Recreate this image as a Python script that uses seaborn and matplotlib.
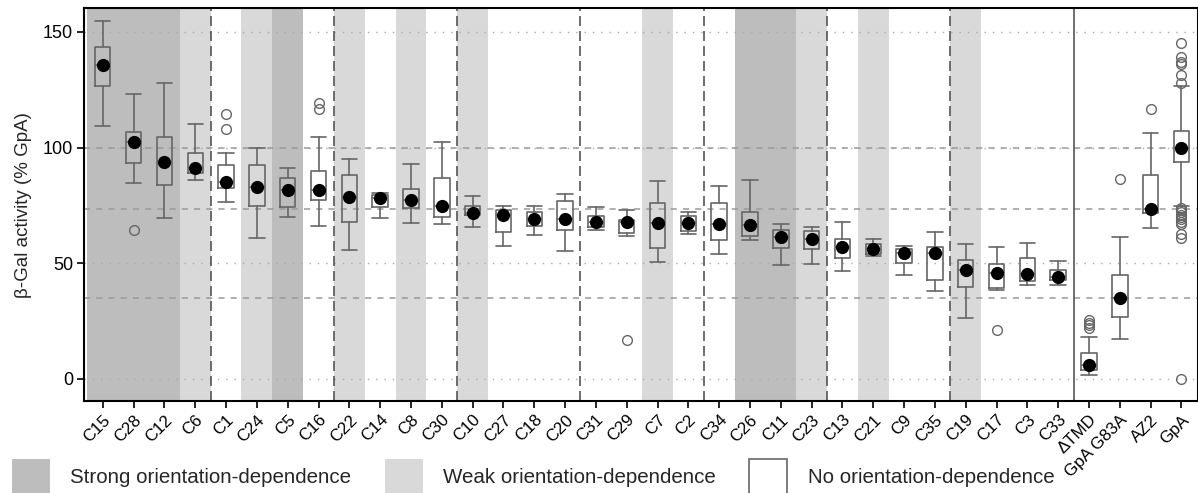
import matplotlib
matplotlib.use("Agg")
import numpy as np
import pandas as pd
import seaborn as sns
import matplotlib.pyplot as plt
from matplotlib.patches import Patch

# Constructs, ordered by median activity, followed by the controls
constructs = ["C15", "C28", "C12", "C6", "C1", "C24", "C5", "C16", "C22", "C14",
              "C8", "C30", "C10", "C27", "C18", "C20", "C31", "C29", "C7", "C2",
              "C34", "C26", "C11", "C23", "C13", "C21", "C9", "C35", "C19", "C17",
              "C3", "C33", "ΔTMD", "GpA G83A", "AZ2", "GpA"]

# Orientation-dependence class of each construct
orientation = ["strong", "strong", "strong", "weak", "none", "weak", "strong", "none",
               "weak", "none", "weak", "none", "weak", "none", "none", "none",
               "none", "none", "weak", "none", "none", "strong", "strong", "weak",
               "none", "weak", "none", "none", "weak", "none", "none", "none",
               "none", "none", "none", "none"]

# Box-plot statistics (% GpA)
whisker_low = [109.2, 84.5, 69.5, 85.8, 76.3, 60.7, 69.8, 66.1, 55.8, 69.5,
               67.5, 66.8, 65.6, 57.3, 62.3, 55.2, 64.2, 61.6, 50.5, 62.8,
               53.8, 59.9, 49.4, 49.8, 46.8, 52.9, 44.8, 38.1, 26.1, 38.6,
               40.4, 40.7, 1.7, 17.3, 65.4, 74.6]
q1 = [126.5, 93.2, 83.7, 88.9, 82.3, 74.9, 74.2, 77.5, 68.0, 74.3,
      74.0, 69.8, 70.7, 63.5, 66.2, 64.2, 65.6, 63.2, 56.5, 63.9,
      60.0, 61.7, 56.7, 56.3, 52.4, 54.1, 50.0, 42.9, 39.7, 39.2,
      42.4, 42.9, 3.9, 26.7, 71.9, 93.9]
median = [135.6, 102.4, 93.9, 91.0, 85.1, 82.9, 81.6, 81.6, 78.4, 78.2,
          77.1, 74.6, 71.9, 70.8, 69.3, 69.1, 67.7, 67.7, 67.4, 67.4,
          66.8, 66.4, 61.3, 60.4, 56.8, 56.3, 54.5, 54.5, 47.2, 45.6,
          45.3, 43.9, 5.9, 34.9, 73.4, 100.0]
q3 = [143.4, 106.8, 104.5, 97.7, 92.6, 92.6, 86.7, 89.9, 88.0, 79.4,
      82.1, 87.0, 74.7, 72.9, 72.3, 76.9, 70.3, 68.7, 75.9, 70.3,
      75.9, 72.1, 64.5, 63.9, 60.6, 58.3, 56.3, 57.0, 51.3, 49.8,
      52.4, 47.2, 11.0, 44.8, 88.0, 107.1]
whisker_high = [154.8, 123.2, 128.1, 110.2, 97.7, 99.8, 91.2, 104.6, 94.9, 80.3,
                92.8, 102.3, 78.9, 74.7, 74.7, 79.9, 74.2, 73.2, 85.7, 72.1,
                83.2, 86.0, 66.8, 65.5, 67.8, 60.3, 57.4, 63.5, 58.4, 57.0,
                58.7, 51.1, 18.0, 61.2, 106.1, 126.8]
outliers = {
    "C28": [64.5],
    "C1": [108.2, 114.3],
    "C16": [116.6, 119.2],
    "C29": [16.6],
    "C17": [21.3],
    "ΔTMD": [22.0, 23.2, 24.3, 25.3],
    "GpA G83A": [86.3],
    "AZ2": [116.6],
    "GpA": [128.0, 131.2, 135.9, 137.1, 139.2, 145.3,
            74.0, 73.0, 72.0, 71.0, 70.0, 69.0, 68.0, 67.0,
            62.8, 61.0, 0.0],
}

# Reference levels drawn across the plot
reference_controls = ["GpA", "AZ2", "GpA G83A"]

class_colors = {"strong": "#bdbdbd", "weak": "#d9d9d9", "none": "white"}
legend_labels = {"strong": "Strong orientation-dependence",
                 "weak": "Weak orientation-dependence",
                 "none": "No orientation-dependence"}

sns.set_theme(style="ticks")
plt.rcParams["font.family"] = ["Liberation Sans", "DejaVu Sans"]

W, H = 1198, 493
fig = plt.figure(figsize=(W / 100, H / 100), dpi=100)
ax = fig.add_axes([84.3 / W, (H - 401) / H, (1197.5 - 84.3) / W, (401 - 8.3) / H])

n = len(constructs)
xlo, xhi = -0.6, n - 0.48
ylo, yhi = -9.6, 160.2

# Background shading by orientation-dependence class
for i, cls in enumerate(orientation):
    if cls != "none":
        ax.axvspan(max(i - 0.5, xlo), i + 0.5, color=class_colors[cls], lw=0, zorder=0)

# Dotted grid
for yv in [0, 50, 100, 150]:
    ax.axhline(yv, color="#aaaaaa", lw=1.0, ls=(0, (1, 5)), zorder=1)

# Dashed reference lines at control medians
for name in reference_controls:
    ax.axhline(median[constructs.index(name)], color="#9a9a9a", lw=1.1,
               ls=(0, (4, 4)), zorder=1)

# Group separators every four constructs, solid line before the controls
n_constructs = sum(1 for c in constructs if c.startswith("C"))
for b in np.arange(3.5, n_constructs - 1, 4):
    ax.axvline(b, color="#555555", lw=1.2, ls=(0, (6, 3)), zorder=2)
ax.axvline(n_constructs - 0.5, color="#555555", lw=1.2, zorder=2)

# Boxes
stats = []
for i, name in enumerate(constructs):
    stats.append(dict(label=name, whislo=whisker_low[i], q1=q1[i], med=median[i],
                      q3=q3[i], whishi=whisker_high[i],
                      fliers=np.array(outliers.get(name, []))))
line_kw = dict(color="#666666", lw=1.2)
ax.bxp(stats, positions=range(n), widths=0.5, capwidths=0.5, showfliers=True,
       patch_artist=False, boxprops=line_kw, whiskerprops=line_kw, capprops=line_kw,
       medianprops=line_kw,
       flierprops=dict(marker="o", markerfacecolor="none", markeredgecolor="#666666",
                       markersize=7, markeredgewidth=1.0),
       manage_ticks=False, zorder=3)

# Median markers
df = pd.DataFrame({"construct": constructs, "median": median})
sns.stripplot(data=df, x="construct", y="median", order=constructs, color="black",
              size=9.5, jitter=False, linewidth=0, ax=ax, zorder=5)

ax.set_xlim(xlo, xhi)
ax.set_ylim(ylo, yhi)
ax.set_yticks([0, 50, 100, 150])
ax.set_xticks(range(n))
ax.set_xticklabels(constructs, rotation=45, ha="right", rotation_mode="anchor")
ax.set_xlabel("")
ax.set_ylabel("β-Gal activity (% GpA)", fontsize=13.5, labelpad=8)
ax.tick_params(axis="both", direction="out", length=5, width=1.2, colors="black",
               pad=3)
ax.tick_params(axis="y", labelsize=13)
ax.tick_params(axis="x", labelsize=12.2)
for sp in ax.spines.values():
    sp.set_color("black")
    sp.set_linewidth(1.5)

# Class legend along the bottom
handles = [Patch(facecolor=class_colors[k], edgecolor=("#666666" if k == "none" else "none"),
                 linewidth=1.2) for k in ["strong", "weak", "none"]]
fig.legend(handles, [legend_labels[k] for k in ["strong", "weak", "none"]],
           loc="center left", bbox_to_anchor=(11.7 / W, (H - 476.7) / H), ncol=3,
           frameon=False, fontsize=14.8, handlelength=1.85, handleheight=2.2,
           handletextpad=1.0, columnspacing=1.62, borderpad=0, borderaxespad=0)

fig.savefig("out.png", dpi=100)
